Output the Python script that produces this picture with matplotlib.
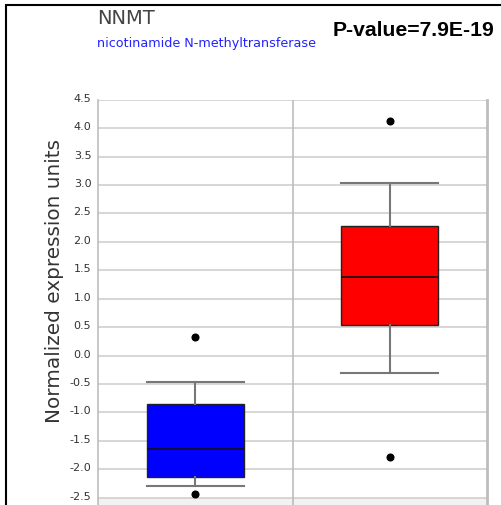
import matplotlib
matplotlib.use("Agg")
import matplotlib.pyplot as plt
import matplotlib.transforms as mtransforms
from matplotlib.patches import Rectangle

# Box statistics per group: whisker low, Q1, median, Q3, whisker high, outliers
groups = ["Normal", "Tumor"]
colors = ["#0000ff", "#ff0000"]
whislo = [-2.30, -0.30]
q1 = [-2.13, 0.53]
med = [-1.64, 1.39]
q3 = [-0.86, 2.28]
whishi = [-0.46, 3.04]
fliers = [[0.33, -2.43], [4.12, -1.785]]

ytick_vals = [4.5, 4.0, 3.5, 3.0, 2.5, 2.0, 1.5, 1.0, 0.5, 0.0, -0.5, -1.0, -1.5, -2.0, -2.5]
ytick_labels = ["4.5", "4.0", "3.5", "3.0", "2.5", "2.0", "1.5", "1.0", "0.5", "0.0",
                "-0.5", "-1.0", "-1.5", "-2.0", "-2.5"]

W, H = 501, 506
fig = plt.figure(figsize=(W / 100, H / 100), dpi=100)

ax_left, ax_right = 98.3, 486.7
ax_top, ax_bottom = 100.7, 506
ax = fig.add_axes([ax_left / W, 1 - ax_bottom / H, (ax_right - ax_left) / W, (ax_bottom - ax_top) / H])

ax.set_xlim(0.5, 2.5)
ax.set_ylim(-2.629, 4.5)

# light band under the lowest gridline
ax.axhspan(-2.629, -2.5, color="#f2f2f2", zorder=0, lw=0)

for v in ytick_vals:
    ax.axhline(v, color="#cfcfcf", lw=1.2, zorder=1)
ax.axvline(1.5, color="#bdbdbd", lw=1.2, zorder=1)

stats = []
for i in range(len(groups)):
    stats.append(dict(whislo=whislo[i], q1=q1[i], med=med[i], q3=q3[i],
                      whishi=whishi[i], fliers=fliers[i], label=groups[i]))

bp = ax.bxp(stats, positions=[1, 2], widths=0.5, patch_artist=True,
            showfliers=True,
            boxprops=dict(edgecolor="#222222", linewidth=1.0),
            medianprops=dict(color="#111111", linewidth=1.2),
            whiskerprops=dict(color="#777777", linewidth=1.5),
            capprops=dict(color="#777777", linewidth=1.5),
            flierprops=dict(marker="o", markerfacecolor="black", markeredgecolor="black",
                            markersize=4.8, linestyle="none"),
            capwidths=0.5, zorder=3)
for patch, c in zip(bp["boxes"], colors):
    patch.set_facecolor(c)

for s in ["top", "bottom"]:
    ax.spines[s].set_visible(False)
ax.spines["left"].set_color("#bdbdbd")
ax.spines["right"].set_color("#bdbdbd")
ax.spines["left"].set_linewidth(1.2)
ax.spines["right"].set_linewidth(2.0)

ax.set_xticks([])
ax.set_yticks(ytick_vals)
ax.set_yticklabels(ytick_labels, fontsize=8, color="#333333", family="DejaVu Sans")
ax.tick_params(axis="y", length=0, pad=5)
offset = mtransforms.ScaledTranslation(0, 3 / 100, fig.dpi_scale_trans)
for lbl in ax.get_yticklabels():
    lbl.set_transform(lbl.get_transform() + offset)

fig.text(55 / W, 1 - 281 / H, "Normalized expression units", rotation=90,
         ha="center", va="center", fontsize=14.4, color="#333333", family="DejaVu Sans")

fig.text(97 / W, 1 - 18 / H, "NNMT", ha="left", va="center", fontsize=14,
         color="#444444", family="DejaVu Sans")
fig.text(97 / W, 1 - 44 / H, "nicotinamide N-methyltransferase", ha="left", va="center",
         fontsize=9.2, color="#2222ff", family="DejaVu Sans")
fig.text(494 / W, 1 - 30 / H, "P-value=7.9E-19", ha="right", va="center", fontsize=15.2,
         color="black", family="Liberation Sans", fontweight="bold")

# outer frame
fig.patches.append(Rectangle((6 / W, -0.05), 1.2, 1 - 6 / H + 0.05, transform=fig.transFigure,
                             fill=False, edgecolor="black", linewidth=1.5))

fig.savefig("out.png", dpi=100)
